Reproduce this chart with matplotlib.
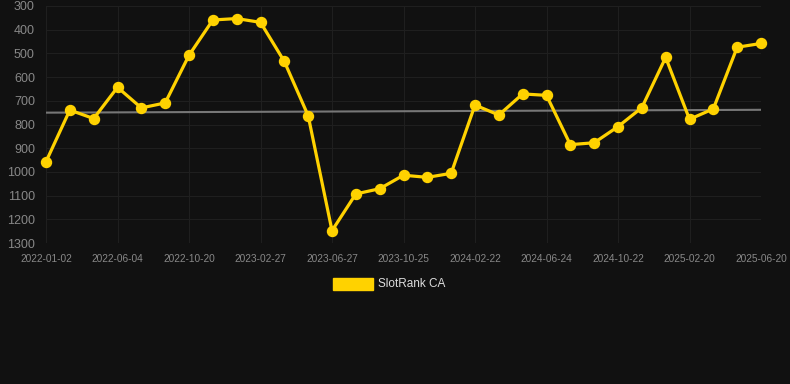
import matplotlib
matplotlib.use("Agg")
import matplotlib.pyplot as plt

tick_labels = ["2022-01-02", "2022-06-04", "2022-10-20", "2023-02-27", "2023-06-27",
               "2023-10-25", "2024-02-22", "2024-06-24", "2024-10-22", "2025-02-20",
               "2025-06-20"]
ranks = [957, 739, 775, 643, 730, 709, 508, 359, 353, 369,
         534, 763, 1248, 1093, 1071, 1014, 1023, 1006, 718, 760,
         671, 677, 885, 877, 809, 729, 517, 778, 734, 474, 458]
trend = [750, 738]
series_name = "SlotRank CA"

bg = "#111111"
fig = plt.figure(figsize=(7.9, 3.84), dpi=100, facecolor=bg)
ax = fig.add_axes([46/790, 1-243/384, (761-46)/790, (243-6)/384], facecolor=bg)

x = list(range(len(ranks)))
ax.plot([x[0], x[-1]], trend, color="#777777", lw=1.5, zorder=2)
ax.plot(x, ranks, color="#ffd200", lw=2.3, marker="o", markersize=7.2, zorder=3,
        clip_on=False)

ax.set_ylim(1300, 300)
ax.set_xlim(0, len(ranks) - 1)
ax.set_yticks(range(300, 1301, 100))
ax.set_xticks(x[::3])
ax.set_xticklabels(tick_labels)
for s in ax.spines.values():
    s.set_visible(False)
ax.grid(True, color="#1f1f1f", lw=0.8)
ax.tick_params(axis="both", length=0, colors="#888888")
ax.tick_params(axis="x", labelsize=7.3, pad=8)
ax.tick_params(axis="y", labelsize=9, pad=8)
for lab in ax.get_xticklabels() + ax.get_yticklabels():
    lab.set_family("Liberation Sans")

# legend
fig.patches.append(plt.Rectangle((333/790, 1-290/384), 40/790, 12/384,
                                 transform=fig.transFigure, color="#ffd200"))
fig.text(378/790, 1-284/384, series_name, color="#dddddd", fontsize=8.5,
         family="Liberation Sans", va="center", ha="left")

fig.savefig("out.png", dpi=100, facecolor=bg)
